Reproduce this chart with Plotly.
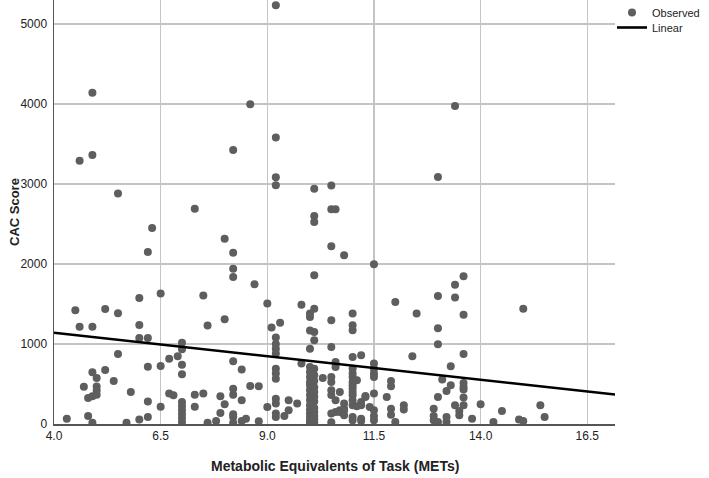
import plotly.graph_objects as go

# MET levels and the CAC scores observed at each level
met_levels = [4.3, 4.5, 4.6, 4.7, 4.8, 4.9, 5.0, 5.2, 5.4, 5.5, 5.7, 5.8, 6.0, 6.2, 6.3,
              6.5, 6.7, 6.8, 6.9, 7.0, 7.3, 7.5, 7.6, 7.8, 7.9, 8.0, 8.2, 8.4, 8.5, 8.6,
              8.7, 8.8, 9.0, 9.1, 9.2, 9.3, 9.4, 9.5, 9.7, 9.8, 10.0, 10.1, 10.3, 10.5,
              10.6, 10.7, 10.8, 11.0, 11.1, 11.2, 11.3, 11.4, 11.5, 11.8, 11.9, 12.0,
              12.2, 12.4, 12.5, 12.9, 13.0, 13.1, 13.2, 13.3, 13.4, 13.5, 13.6, 13.8,
              14.0, 14.3, 14.5, 14.9, 15.0, 15.4, 15.5]

cac_by_level = [
    [67], [1421], [3292, 1217], [467], [100, 325],
    [4141, 3363, 1217, 646, 17, 346], [575, 470, 420, 367], [1438, 675], [538],
    [2880, 1384, 875], [17], [400], [1575, 1238, 1075, 55], [2150, 1075, 717, 280, 88],
    [2450],
    [1630, 725, 217], [817, 380], [359], [846],
    [1017, 934, 742, 621, 275, 225, 175, 125, 75, 25],
    [2692, 367, 217], [1605, 380], [1230, 17], [38], [346, 138], [2317, 1309, 246],
    [3425, 2142, 1942, 1838, 784, 442, 367, 121, 88, 17], [680, 296, 38], [67],
    [3996, 475],
    [1746], [471, 34], [1505, 213], [1205],
    [5234, 3580, 3084, 2984, 1080, 1000, 940, 880, 692, 630, 567, 317, 255, 130, 88],
    [1267], [100], [296, 171], [255], [1492, 755],
    [1380, 1338, 1170, 942, 712, 650, 587, 525, 487, 425, 362, 300, 234, 180, 130, 88, 40, 10],
    [2942, 2600, 2525, 1859, 1442, 1150, 1046, 690, 610, 540, 460, 400, 340, 280, 200, 150, 100, 60, 20],
    [575],
    [2980, 2684, 2221, 1296, 963, 588, 525, 421, 363, 130, 21],
    [2684, 775, 712, 296, 150], [400, 171, 150], [2109, 255, 192, 171, 109],
    [1380, 1234, 1171, 838, 692, 630, 588, 525, 484, 446, 400, 359, 296, 234, 88, 46],
    [546, 221], [859, 275, 234, 67, 38], [350, 338], [213],
    [1996, 755, 692, 630, 588, 380, 171, 100, 46], [338], [538, 471, 192, 117],
    [1525, 25],
    [234, 180], [846], [1380], [192, 100, 46], [3088, 1600, 1196, 996, 338, 25], [555],
    [413, 88, 25], [721, 484], [3975, 1742, 1580, 234], [163, 109],
    [1846, 1367, 875, 513, 463, 430, 330, 234], [67],
    [246], [25], [163], [55], [1442, 38], [234], [88],
]

# Linear fit reported with the chart
fit_intercept = 1375.0
fit_slope = -58.7

x_ticks = [4.0, 6.5, 9.0, 11.5, 14.0, 16.5]
x_tick_labels = ["4.0", "6.5", "9.0", "11.5", "14.0", "16.5"]
y_ticks = [0, 1000, 2000, 3000, 4000, 5000]
x_range = [4.0, 17.15]
y_range = [0, 5300]

x_title = "Metabolic Equivalents of Task (METs)"
y_title = "CAC Score"

mets = [m for m, vals in zip(met_levels, cac_by_level) for _ in vals]
cac = [v for vals in cac_by_level for v in vals]

line_x = x_range
line_y = [fit_intercept + fit_slope * x for x in line_x]

W, H = 709, 478
ML, MR, MT, MB = 54, 94, 0, 54
plot_h = H - MT - MB
plot_w = W - ML - MR

text_col = "#222222"
font_family = "Liberation Sans, Arial, sans-serif"

fig = go.Figure()
fig.add_trace(go.Scatter(
    x=mets, y=cac, mode="markers", name="Observed", legend="legend",
    marker=dict(color="#5e5e5e", size=8, line=dict(width=0)),
))
fig.add_trace(go.Scatter(
    x=line_x, y=line_y, mode="lines", name="Linear", legend="legend2",
    line=dict(color="black", width=2.6),
))

legend_x = 1.0 - 3.0 / plot_w
legend_common = dict(x=legend_x, xanchor="left", yanchor="top",
                     font=dict(size=11, color=text_col, family=font_family),
                     bgcolor="rgba(0,0,0,0)", itemwidth=30, borderwidth=0)

fig.update_layout(
    width=W, height=H,
    margin=dict(l=ML, r=MR, t=MT, b=MB, autoexpand=False),
    paper_bgcolor="white", plot_bgcolor="white",
    font=dict(family=font_family, color=text_col, size=12),
    showlegend=True,
    legend=dict(y=1.0 + 2.0 / plot_h, **legend_common),
    legend2=dict(y=1.0 - 13.0 / plot_h, **legend_common),
    xaxis=dict(
        range=x_range, tickvals=x_ticks, ticktext=x_tick_labels,
        showgrid=True, gridcolor="#c4c4c4", gridwidth=1.5,
        zeroline=False, showline=True, linecolor="#555555", linewidth=1.5,
        ticks="", tickfont=dict(size=12, color=text_col), automargin=False,
    ),
    yaxis=dict(
        range=y_range, tickvals=y_ticks,
        showgrid=True, gridcolor="#c4c4c4", gridwidth=1.5,
        zeroline=False, showline=True, linecolor="#555555", linewidth=1.5,
        ticks="", tickfont=dict(size=12, color=text_col), automargin=False,
        ticklabelstandoff=3,
    ),
    annotations=[
        dict(text="<b>%s</b>" % x_title, xref="paper", yref="paper",
             x=0.5, y=0, xanchor="center", yanchor="middle", yshift=-42,
             showarrow=False, font=dict(size=14, color=text_col)),
        dict(text="<b>%s</b>" % y_title, xref="paper", yref="paper",
             x=0, y=0.5, xanchor="center", yanchor="middle", xshift=-40,
             textangle=-90, showarrow=False, font=dict(size=13, color=text_col)),
    ],
)

# remove the default page margin so the figure sits at the window's top-left corner
page_fix = "document.body.style.margin='0';document.body.style.overflow='hidden';"

fig.write_html("out.html", post_script=page_fix,
               config={"displayModeBar": False, "staticPlot": True})
